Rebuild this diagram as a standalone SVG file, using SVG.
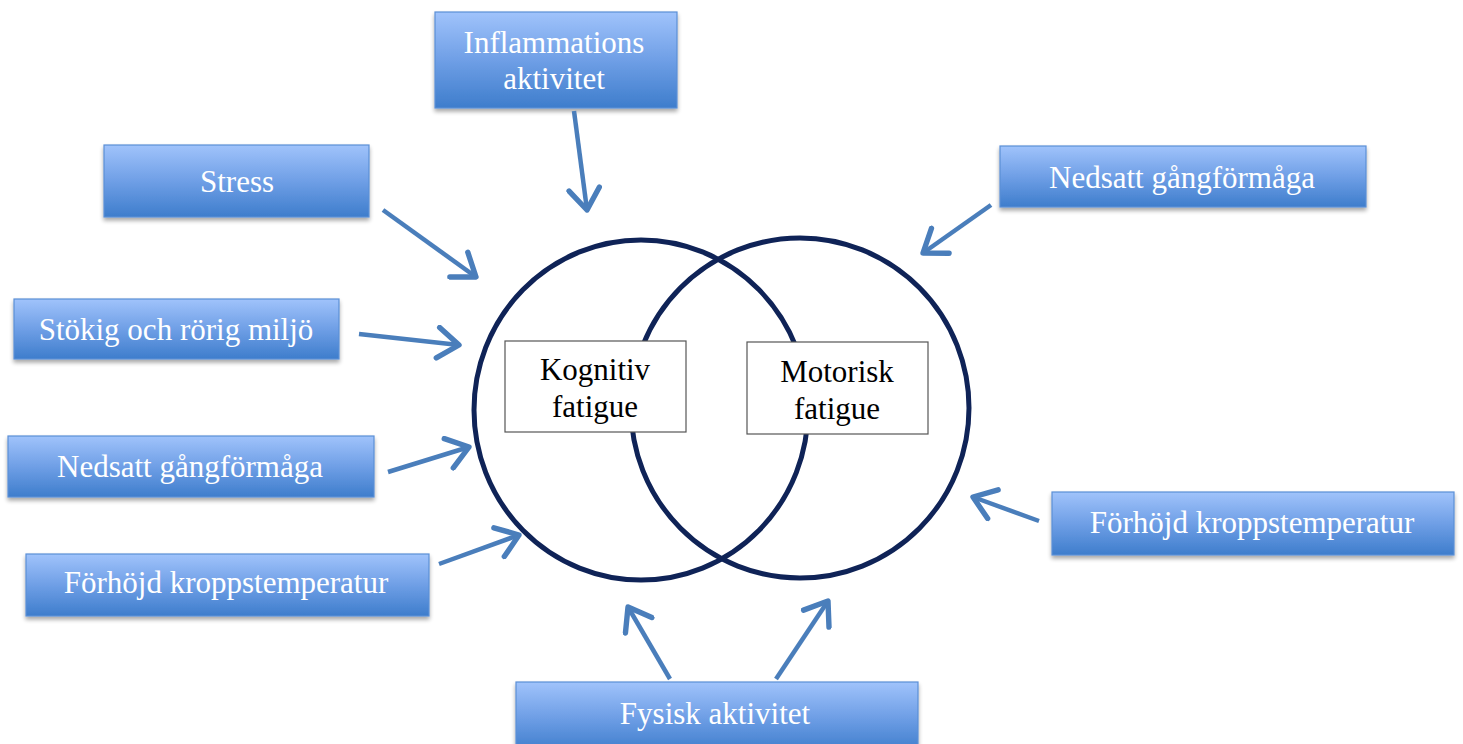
<svg xmlns="http://www.w3.org/2000/svg" width="1463" height="744" viewBox="0 0 1463 744">
<defs>
<linearGradient id="bg" x1="0" y1="0" x2="0" y2="1">
<stop offset="0" stop-color="#a0c3fb"/>
<stop offset="0.5" stop-color="#6f9fe6"/>
<stop offset="1" stop-color="#3e7dcc"/>
</linearGradient>
<filter id="sh" x="-5%" y="-10%" width="110%" height="130%">
<feGaussianBlur in="SourceAlpha" stdDeviation="2"/>
<feOffset dx="0" dy="3"/>
<feComponentTransfer><feFuncA type="linear" slope="0.35"/></feComponentTransfer>
<feMerge><feMergeNode/><feMergeNode in="SourceGraphic"/></feMerge>
</filter>
<marker id="ah" markerWidth="8" markerHeight="8" refX="6" refY="4" orient="auto" markerUnits="strokeWidth" viewBox="0 0 8 8">
<path d="M1.3,0.6 L6,4 L1.3,7.4" fill="none" stroke="#4a7ebb" stroke-width="1.2" stroke-linecap="round" stroke-linejoin="round"/>
</marker>
</defs>
<style>
.box{fill:url(#bg);stroke:#5b8fd6;stroke-width:1.2;filter:url(#sh)}
.bt{font-family:"Liberation Serif",serif;font-size:31px;fill:#ffffff;text-anchor:middle}
.ib{fill:#ffffff;stroke:#555555;stroke-width:1.2}
.it{font-family:"Liberation Serif",serif;font-size:31px;fill:#000000;text-anchor:middle}
.circ{fill:none;stroke:#0f2357;stroke-width:5}
.arr{stroke:#4a7ebb;stroke-width:4.5;fill:none;marker-end:url(#ah)}
</style>
<rect width="1463" height="744" fill="#ffffff"/>
<g id="circles">
<ellipse class="circ" cx="641" cy="410" rx="167" ry="170"/>
<ellipse class="circ" cx="800" cy="408" rx="169" ry="170"/>
</g>
<g id="kognitiv">
<rect class="ib" x="505" y="341" width="181" height="91"/>
<text class="it" x="595" y="380">Kognitiv</text>
<text class="it" x="595" y="417">fatigue</text>
</g>
<g id="motorisk">
<rect class="ib" x="747" y="342" width="181" height="92"/>
<text class="it" x="837" y="382">Motorisk</text>
<text class="it" x="837" y="419">fatigue</text>
</g>
<g id="inflammation">
<rect class="box" x="435" y="12" width="242" height="96"/>
<text class="bt" x="554" y="53">Inflammations</text>
<text class="bt" x="554" y="89">aktivitet</text>
</g>
<g id="stress">
<rect class="box" x="104" y="145" width="265" height="72"/>
<text class="bt" x="237" y="192">Stress</text>
</g>
<g id="stokig">
<rect class="box" x="14" y="299" width="325" height="60"/>
<text class="bt" x="176" y="340">Stökig och rörig miljö</text>
</g>
<g id="nedsatt-left">
<rect class="box" x="8" y="436" width="366" height="61"/>
<text class="bt" x="190" y="477">Nedsatt gångförmåga</text>
</g>
<g id="forhojd-left">
<rect class="box" x="26" y="554" width="403" height="62"/>
<text class="bt" x="226" y="593">Förhöjd kroppstemperatur</text>
</g>
<g id="nedsatt-right">
<rect class="box" x="1000" y="146" width="366" height="61"/>
<text class="bt" x="1182" y="188">Nedsatt gångförmåga</text>
</g>
<g id="forhojd-right">
<rect class="box" x="1052" y="492" width="402" height="63"/>
<text class="bt" x="1252" y="533">Förhöjd kroppstemperatur</text>
</g>
<g id="fysisk">
<rect class="box" x="516" y="682" width="402" height="70"/>
<text class="bt" x="715" y="724">Fysisk aktivitet</text>
</g>
<g id="connectors">
<line class="arr" x1="574" y1="111" x2="587" y2="210"/>
<line class="arr" x1="383" y1="210" x2="476" y2="277"/>
<line class="arr" x1="359" y1="334" x2="459" y2="345"/>
<line class="arr" x1="388" y1="472" x2="469" y2="447"/>
<line class="arr" x1="439" y1="564" x2="519" y2="535"/>
<line class="arr" x1="991" y1="205" x2="923" y2="253"/>
<line class="arr" x1="1039" y1="521" x2="973" y2="497"/>
<line class="arr" x1="670" y1="679" x2="628" y2="607"/>
<line class="arr" x1="776" y1="679" x2="828" y2="601"/>
</g>
</svg>
